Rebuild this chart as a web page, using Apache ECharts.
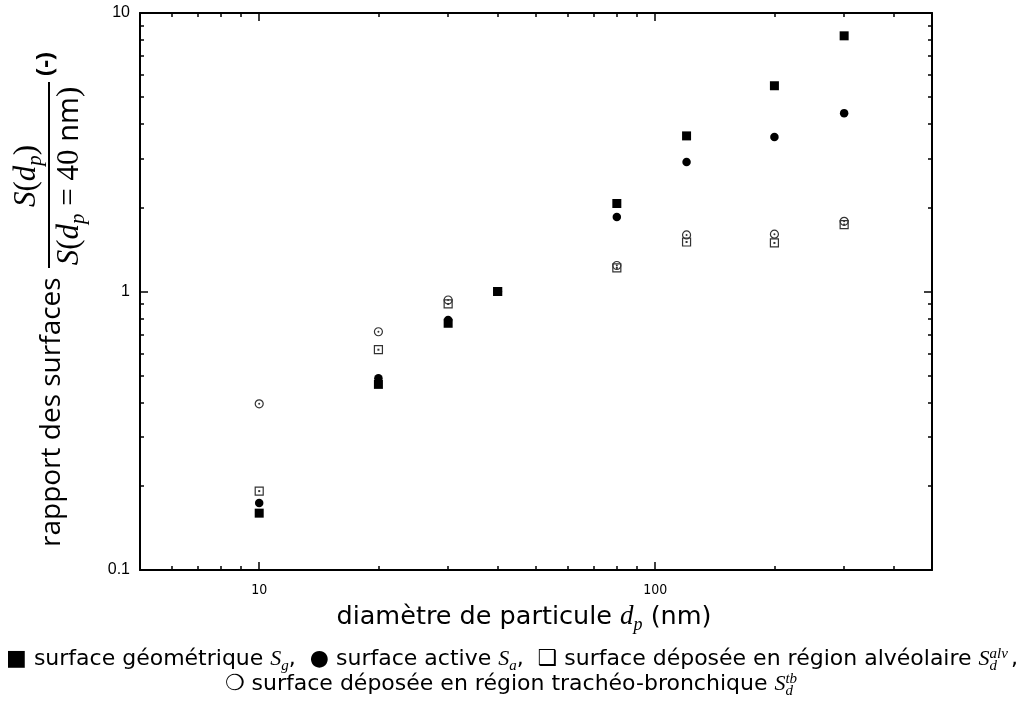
<!DOCTYPE html>
<html><head><meta charset="utf-8">
<script src="https://cdn.jsdelivr.net/npm/echarts@6/dist/echarts.min.js"></script>
<style>html,body{margin:0;padding:0;background:#fff}#c{width:1025px;height:704px}</style>
</head><body><div id="c"></div>
<script>
// ---- data ----
const diameters = [10, 20, 30, 40, 80, 120, 200, 300];
const sGeom   = [0.160, 0.464, 0.769, 1, 2.07, 3.62, 5.48, 8.28];
const sActive = [0.174, 0.488, 0.790, 1, 1.85, 2.92, 3.59, 4.37];
const sAlv    = [0.192, 0.618, 0.902, 1, 1.215, 1.506, 1.494, 1.738];
const sTb     = [0.395, 0.717, 0.932, 1, 1.24, 1.596, 1.606, 1.787];
const xMajorTicks = [10, 100];
const xMinorTicks = [6, 7, 8, 9, 20, 30, 40, 50, 60, 70, 80, 90, 200, 300, 400];
const yMajorTicks = [0.1, 1, 10];
const yMinorTicks = [0.2, 0.3, 0.4, 0.5, 0.6, 0.7, 0.8, 0.9, 2, 3, 4, 5, 6, 7, 8, 9];
const xTitle = ['diamètre de particule ', 'd', 'p', ' (nm)'];
const yTitle = 'rapport des surfaces';
const legendNames = ['surface géométrique', 'surface active', 'surface déposée en région alvéolaire', 'surface déposée en région trachéo-bronchique'];

const pts = arr => diameters.map((d, i) => [d, arr[i]]);

// ---- text helpers ----
const SANS = '"DejaVu Sans", sans-serif';
const SANSC = '"DejaVu Sans Condensed", "DejaVu Sans", sans-serif';
const SERIF = '"Liberation Serif", serif';
const mctx = document.createElement('canvas').getContext('2d');
function tw(t, f) { mctx.font = f; return mctx.measureText(t).width; }
function buildLine(parts, anchorX, baseY, align) {
  let x = 0; const items = []; let stackW = 0;
  parts.forEach(p => {
    const w = tw(p.t, p.f);
    const size = parseFloat(p.f.match(/([\d.]+)px/)[1]);
    items.push({ t: p.t, f: p.f, x: x + (p.dx || 0), dy: p.dy || 0, size });
    if (p.stack) { stackW = w; } else { x += Math.max(w, stackW) + (p.dx || 0); stackW = 0; }
  });
  const x0 = align === 'center' ? anchorX - x / 2 : anchorX;
  return items.map(it => ({
    type: 'text', x: x0 + it.x, y: baseY + it.dy - 0.34 * it.size, silent: true,
    style: { text: it.t, font: it.f, fill: '#000', align: 'left', verticalAlign: 'middle' }
  }));
}

const graphics = [];
// x-axis title
graphics.push(...buildLine([
  { t: xTitle[0], f: '25.5px ' + SANS },
  { t: xTitle[1], f: 'italic 27px ' + SERIF },
  { t: xTitle[2], f: 'italic 18px ' + SERIF, dy: 5 },
  { t: xTitle[3], f: '25.5px ' + SANS }
], 524, 626, 'center'));

// legend lines
const LF = '22px ' + SANS, MF = 'italic 22px ' + SERIF, SF = 'italic 15px ' + SERIF;
graphics.push(...buildLine([
  { t: '■ ' + legendNames[0] + ' ', f: LF },
  { t: 'S', f: MF }, { t: 'g', f: SF, dy: 4 },
  { t: ',  ● ' + legendNames[1] + ' ', f: LF },
  { t: 'S', f: MF }, { t: 'a', f: SF, dy: 4 },
  { t: ',  ❑ ' + legendNames[2] + ' ', f: LF },
  { t: 'S', f: MF }, { t: 'alv', f: SF, dy: -8, stack: true }, { t: 'd', f: SF, dy: 4 },
  { t: ',', f: LF, dx: 3 }
], 512, 667, 'center'));
graphics.push(...buildLine([
  { t: '❍ ' + legendNames[3] + ' ', f: LF },
  { t: 'S', f: MF }, { t: 'tb', f: SF, dy: -8, stack: true }, { t: 'd', f: SF, dy: 4 }
], 511, 692, 'center'));

// y-axis title (rotated group: local x = 704 - screenY, local y = screenX)
const yChildren = [];
yChildren.push(...buildLine([{ t: yTitle, f: '28px "Open Sans", sans-serif' }], 157, 62, 'left'));
const MATH = 31;
yChildren.push(...buildLine([
  { t: 'S', f: 'italic ' + MATH + 'px ' + SERIF },
  { t: '(', f: MATH + 'px ' + SERIF },
  { t: 'd', f: 'italic ' + MATH + 'px ' + SERIF },
  { t: 'p', f: 'italic 21px ' + SERIF, dy: 6 },
  { t: ')', f: MATH + 'px ' + SERIF }
], 528, 37, 'center'));
yChildren.push(...buildLine([
  { t: 'S', f: 'italic ' + MATH + 'px ' + SERIF },
  { t: '(', f: MATH + 'px ' + SERIF },
  { t: 'd', f: 'italic ' + MATH + 'px ' + SERIF },
  { t: 'p', f: 'italic 21px ' + SERIF, dy: 6 },
  { t: ' = 40 ', f: MATH + 'px ' + SERIF },
  { t: 'nm', f: '29px "Open Sans", sans-serif' },
  { t: ')', f: MATH + 'px ' + SERIF }
], 528, 80, 'center'));
yChildren.push({ type: 'line', silent: true, shape: { x1: 436, y1: 49, x2: 622, y2: 49 }, style: { stroke: '#000', lineWidth: 2 } });
yChildren.push(...buildLine([{ t: '(-)', f: 'bold 24px "Open Sans", sans-serif' }], 628, 54, 'left'));
graphics.push({ type: 'group', x: 0, y: 704, rotation: Math.PI / 2, children: yChildren });

// ---- axes ----
function xAxis(pos, ticks, len, labels, line) {
  return {
    type: 'log', logBase: 10, min: 5, max: 500, position: pos, gridIndex: 0,
    axisLine: { show: line, lineStyle: { color: '#000', width: 2 } },
    axisTick: { show: true, inside: true, length: len, customValues: ticks, lineStyle: { color: '#000', width: 1.5 } },
    axisLabel: labels ? { show: true, customValues: ticks, margin: 13, color: '#000', fontSize: 14, fontFamily: SANSC,
      formatter: v => String(+(+v).toPrecision(3)) } : { show: false },
    splitLine: { show: false }, minorTick: { show: false }
  };
}
function yAxis(pos, ticks, len, labels, line) {
  return {
    type: 'log', logBase: 10, min: 0.1, max: 10, position: pos, gridIndex: 0,
    axisLine: { show: line, lineStyle: { color: '#000', width: 2 } },
    axisTick: { show: true, inside: true, length: len, customValues: ticks, lineStyle: { color: '#000', width: 1.5 } },
    axisLabel: labels ? { show: true, customValues: ticks, margin: 10, color: '#000', fontSize: 16, fontFamily: '"Liberation Sans", Arial, sans-serif',
      formatter: v => String(+(+v).toPrecision(3)) } : { show: false },
    splitLine: { show: false }, minorTick: { show: false }
  };
}

const OPEN = '#333';
const option = {
  animation: false,
  backgroundColor: '#fff',
  grid: { left: 140, right: 93, top: 13, bottom: 134, containLabel: false },
  xAxis: [
    xAxis('bottom', xMajorTicks, 8, true, true),
    xAxis('bottom', xMinorTicks, 4, false, false),
    xAxis('top', xMajorTicks, 8, false, true),
    xAxis('top', xMinorTicks, 4, false, false)
  ],
  yAxis: [
    yAxis('left', yMajorTicks, 8, true, true),
    yAxis('left', yMinorTicks, 4, false, false),
    yAxis('right', yMajorTicks, 8, false, true),
    yAxis('right', yMinorTicks, 4, false, false)
  ],
  series: [
    { name: legendNames[3], type: 'scatter', data: pts(sTb), symbol: 'circle', symbolSize: 8, z: 2,
      itemStyle: { color: 'rgba(0,0,0,0)', borderColor: OPEN, borderWidth: 1.2, opacity: 1 } },
    { type: 'scatter', data: pts(sTb), symbol: 'circle', symbolSize: 2, z: 2, itemStyle: { color: OPEN, opacity: 1 } },
    { name: legendNames[2], type: 'scatter', data: pts(sAlv), symbol: 'rect', symbolSize: 8, z: 3,
      itemStyle: { color: 'rgba(0,0,0,0)', borderColor: OPEN, borderWidth: 1.2, opacity: 1 } },
    { type: 'scatter', data: pts(sAlv), symbol: 'rect', symbolSize: 2, z: 3, itemStyle: { color: OPEN, opacity: 1 } },
    { name: legendNames[1], type: 'scatter', data: pts(sActive), symbol: 'circle', symbolSize: 8.5, z: 4,
      itemStyle: { color: '#000', opacity: 1 } },
    { name: legendNames[0], type: 'scatter', data: pts(sGeom), symbol: 'rect', symbolSize: 9, z: 5,
      itemStyle: { color: '#000', opacity: 1 } }
  ],
  graphic: graphics
};
const chart = echarts.init(document.getElementById('c'), null, { renderer: 'canvas' });
chart.setOption(option);
</script>
</body></html>
